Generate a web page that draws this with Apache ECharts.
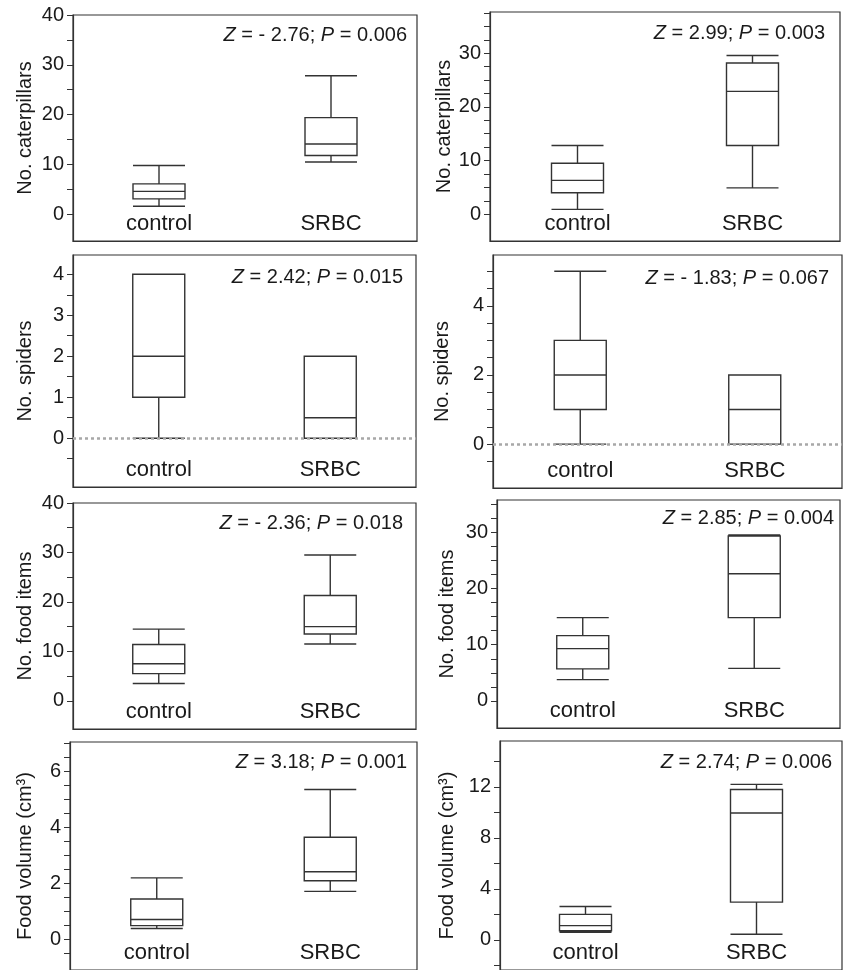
<!DOCTYPE html>
<html>
<head>
<meta charset="utf-8">
<script src="https://cdn.jsdelivr.net/npm/echarts@6/dist/echarts.min.js"></script>
<style>
html,body{margin:0;padding:0;background:#fff;}
#chart{width:845px;height:970px;}
</style>
</head>
<body>
<div id="chart"></div>
<script>
// ---- data ----
const categories = ['control', 'SRBC'];
// each box: [lower whisker, Q1, median, Q3, upper whisker]
const caterpillarsA = [[1.6, 3.1, 4.6, 6.1, 9.8], [10.5, 11.8, 14.1, 19.4, 27.8]];
const caterpillarsB = [[0.9, 4.0, 6.3, 9.5, 12.8], [4.9, 12.8, 22.9, 28.2, 29.6]];
const spidersA = [[0, 1, 2, 4, 4], [0, 0, 0.5, 2, 2]];
const spidersB = [[0, 1, 2, 3, 5], [0, 0, 1, 2, 2]];
const foodItemsA = [[3.5, 5.5, 7.5, 11.4, 14.5], [11.5, 13.5, 15, 21.3, 29.5]];
const foodItemsB = [[3.8, 5.7, 9.3, 11.6, 14.8], [5.8, 14.8, 22.6, 29.3, 29.5]];
const foodVolumeA = [[0.4, 0.5, 0.72, 1.45, 2.2], [1.72, 2.1, 2.42, 3.65, 5.35]];
const foodVolumeB = [[0.6, 0.72, 1.12, 2.0, 2.62], [0.44, 2.96, 9.95, 11.8, 12.2]];

const statZ = ['- 2.76', '2.99', '2.42', '- 1.83', '- 2.36', '2.85', '3.18', '2.74'];
const statP = ['0.006', '0.003', '0.015', '0.067', '0.018', '0.004', '0.001', '0.006'];
const yNames = ['No. caterpillars', 'No. caterpillars', 'No. spiders', 'No. spiders',
                'No. food items', 'No. food items', 'Food volume (cm³)', 'Food volume (cm³)'];
// axis ranges: [min, max, tick step, labelled step, first tick]
const yRanges = [
  [-5.36, 40, 5, 10, 0], [-5.0, 37.7, 2.5, 10, 0],
  [-1.19, 4.47, 0.5, 1, -0.5], [-1.27, 5.47, 0.5, 2, -0.5],
  [-5.7, 40, 5, 10, 0], [-4.8, 35.7, 2.5, 10, 0],
  [-1.08, 7.04, 0.5, 2, -0.5], [-2.36, 15.6, 2, 4, -2]
];
const panelData = [caterpillarsA, caterpillarsB, spidersA, spidersB, foodItemsA, foodItemsB, foodVolumeA, foodVolumeB];
const zeroLine = [false, false, true, true, false, false, false, false];

// ---- layout (pixels) ----
const W = 845, H = 970;
const boxes = [ // left, right, top, bottom
  [73, 417, 15, 241], [490, 840, 12, 241],
  [73, 416, 255, 487], [493, 842, 255, 488],
  [73, 416, 503, 729], [497, 840, 500, 728],
  [70, 417, 742, 975], [500, 842, 741, 975]
];
const nameGaps = [38, 30, 38, 41, 38, 40, 35, 43];
const statPos = [ // right edge, top
  [407, 25], [825, 23], [403, 267], [829, 268], [403, 513], [834, 508], [407, 752], [832, 752]
];

const FONT = 'Liberation Sans, Arial, Helvetica, sans-serif';
const INK = '#1a1a1a';
const LINE = '#333';

function tickList(r) {
  const out = [];
  const n = Math.floor((r[1] - r[4]) / r[2] + 1e-9);
  for (let k = 0; k <= n; k++) out.push(Math.round((r[4] + k * r[2]) * 1000) / 1000);
  return out;
}

const grid = [], xAxis = [], yAxis = [], series = [], title = [];
boxes.forEach((b, i) => {
  grid.push({
    left: b[0], right: W - b[1], top: b[2], bottom: H - b[3],
    show: true, borderColor: LINE, borderWidth: 1.2, containLabel: false
  });
  xAxis.push({
    type: 'category', gridIndex: i, data: categories, boundaryGap: true,
    axisLine: { onZero: false, lineStyle: { color: LINE, width: 1.2 } },
    axisTick: { inside: true, length: 4, lineStyle: { color: LINE } },
    axisLabel: { inside: true, margin: 6, fontSize: 22, color: INK, fontFamily: FONT },
    splitLine: { show: false }
  });
  const r = yRanges[i];
  const ticks = tickList(r);
  yAxis.push({
    type: 'value', gridIndex: i, min: r[0], max: r[1],
    minInterval: r[2], maxInterval: r[2],
    name: yNames[i], nameLocation: 'middle', nameGap: nameGaps[i],
    nameTextStyle: { fontSize: 20, color: INK, fontFamily: FONT },
    axisLine: { show: true, onZero: false, lineStyle: { color: LINE, width: 1.2 } },
    axisTick: { show: true, length: 6, customValues: ticks, lineStyle: { color: LINE } },
    axisLabel: {
      fontSize: 20, color: INK, fontFamily: FONT, margin: 9,
      customValues: ticks.filter(v => v >= 0 && Math.abs(v / r[3] - Math.round(v / r[3])) < 1e-6),
      formatter: v => String(Math.round(v * 1000) / 1000)
    },
    splitLine: { show: false }
  });
  const s = {
    type: 'boxplot', xAxisIndex: i, yAxisIndex: i, data: panelData[i],
    boxWidth: [52, 52], silent: true,
    itemStyle: { color: '#fff', borderColor: LINE, borderWidth: 1.4 }
  };
  if (zeroLine[i]) {
    s.markLine = {
      silent: true, symbol: ['none', 'none'], label: { show: false },
      lineStyle: { type: [3, 3], color: '#a8a8a8', width: 2.5 },
      data: [{ yAxis: 0 }]
    };
  }
  series.push(s);
  title.push({
    text: '{i|Z} = ' + statZ[i] + '; {i|P} = ' + statP[i],
    right: W - statPos[i][0], top: statPos[i][1], padding: 0,
    textStyle: {
      fontSize: 20, fontWeight: 'normal', color: INK, fontFamily: FONT,
      rich: { i: { fontStyle: 'italic', fontSize: 20, color: INK, fontFamily: FONT } }
    }
  });
});

const chart = echarts.init(document.getElementById('chart'), null, { renderer: 'canvas' });
chart.setOption({
  backgroundColor: '#fff',
  animation: false,
  title, grid, xAxis, yAxis, series
});
</script>
</body>
</html>
